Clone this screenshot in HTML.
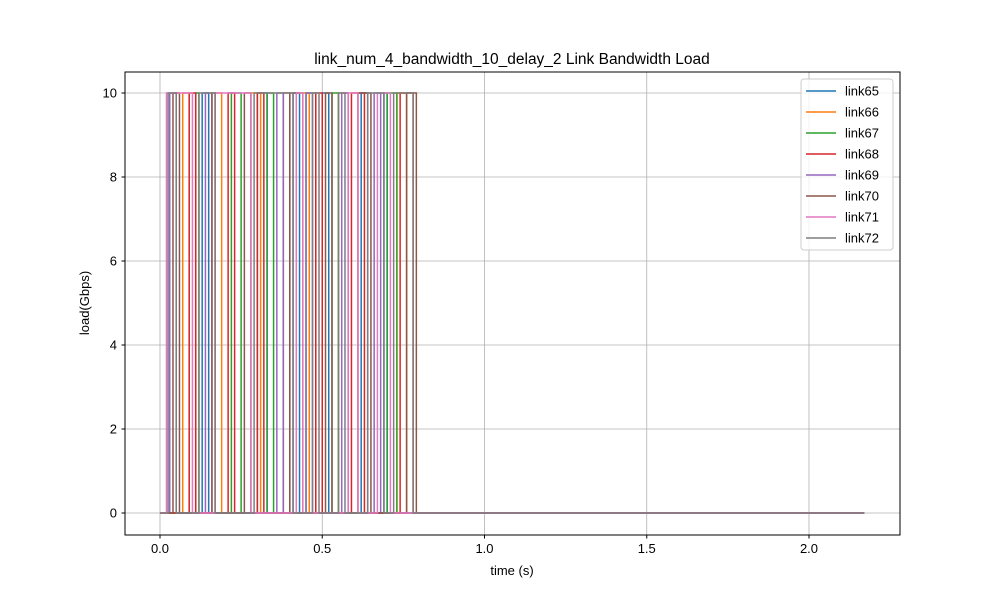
<!DOCTYPE html>
<html><head><meta charset="utf-8"><style>body{margin:0;background:#fff}svg{display:block;font-family:"Liberation Sans","DejaVu Sans",sans-serif}</style></head>
<body>
<svg id="chart" width="1000" height="600">
<rect width="1000" height="600" fill="#fff"/>
<text x="512" y="64" text-anchor="middle" font-size="15.5">link_num_4_bandwidth_10_delay_2 Link Bandwidth Load</text>
<g id="grid"></g>
<g id="series"></g>
<rect x="125" y="72" width="775" height="463" fill="none" stroke="#000" stroke-width="1"/>
<g id="ticks" font-size="13"></g>
<text x="512" y="575" text-anchor="middle" font-size="13">time (s)</text>
<text x="89" y="303" text-anchor="middle" font-size="13" transform="rotate(-90 89 303)">load(Gbps)</text>
<g id="legend"></g>
</svg>
<script>
const NS="http://www.w3.org/2000/svg";
const linkNames=["link65","link66","link67","link68","link69","link70","link71","link72"];
const colors=["#1f77b4","#ff7f0e","#2ca02c","#d62728","#9467bd","#8c564b","#e377c2","#7f7f7f"];
const xTicks=[0,0.5,1.0,1.5,2.0];
const xTickLabels=["0.0","0.5","1.0","1.5","2.0"];
const yTicks=[0,2,4,6,8,10];
const endTime=2.17;
const onLevel=10;
const link65=[[0.13,0.15],[0.30,0.33],[0.41,0.43],[0.50,0.52],[0.62,0.64],[0.69,0.70]];
const link66=[[0.07,0.09],[0.17,0.19],[0.28,0.31],[0.44,0.46],[0.55,0.58],[0.73,0.76]];
const link67=[[0.11,0.12],[0.22,0.25],[0.33,0.35],[0.45,0.48],[0.53,0.55],[0.70,0.73]];
const link68=[[0.09,0.11],[0.21,0.23],[0.30,0.32],[0.38,0.40],[0.48,0.50],[0.59,0.63],[0.74,0.78]];
const link69=[[0.03,0.05],[0.14,0.16],[0.36,0.38],[0.45,0.47],[0.56,0.58],[0.66,0.68]];
const link70=[[0.04,0.06],[0.16,0.17],[0.26,0.28],[0.40,0.44],[0.51,0.53],[0.61,0.65],[0.76,0.79]];
const link71=[[0.02,0.10],[0.17,0.28],[0.42,0.44],[0.58,0.61],[0.67,0.71]];
const link72=[[0.025,0.05],[0.12,0.17],[0.29,0.41],[0.47,0.49],[0.55,0.57],[0.64,0.69],[0.72,0.78]];
const allSeries=[link65,link66,link67,link68,link69,link70,link71,link72];

const X=t=>160+t*324.5;
const Y=v=>513-v*42;
function mk(tag,attrs,parent){const e=document.createElementNS(NS,tag);for(const k in attrs)e.setAttribute(k,attrs[k]);parent.appendChild(e);return e;}
const grid=document.getElementById('grid'),ticks=document.getElementById('ticks');
xTicks.forEach((t,i)=>{
 const g=mk('line',{x1:X(t),x2:X(t),y1:72,y2:535,stroke:'#b0b0b0','stroke-width':0.8},grid);
 
 
 mk('line',{x1:X(t),x2:X(t),y1:535,y2:538.5,stroke:'#000'},ticks);
 const tx=mk('text',{x:X(t),y:553,'text-anchor':'middle'},ticks);tx.textContent=xTickLabels[i];
 
 
});
yTicks.forEach(v=>{
 const g=mk('line',{x1:125,x2:900,y1:Y(v),y2:Y(v),stroke:'#b0b0b0','stroke-width':0.8},grid);
 
 
 mk('line',{x1:121.5,x2:125,y1:Y(v),y2:Y(v),stroke:'#000'},ticks);
 const tx=mk('text',{x:117,y:Y(v)+4.5,'text-anchor':'end'},ticks);tx.textContent=String(v);
 
 
});
const sg=document.getElementById('series');
allSeries.forEach((iv,si)=>{
 let d=`M${X(0)},${Y(0)}`;
 iv.forEach(([a,b])=>{d+=` L${X(a)},${Y(0)} L${X(a)},${Y(onLevel)} L${X(b)},${Y(onLevel)} L${X(b)},${Y(0)}`;});
 d+=` L${X(endTime)},${Y(0)}`;
 const p=mk('path',{d:d,fill:'none',stroke:colors[si],'stroke-width':1.5,'stroke-linejoin':'miter'},sg);
 
 
});
const lg=document.getElementById('legend');
const box=mk('rect',{x:801,y:79,width:92,height:171,rx:3,fill:'#fff','fill-opacity':0.8,stroke:'#ccc'},lg);


linkNames.forEach((n,i)=>{
 const y=91+i*21;
 const g=mk('g',{},lg);
 
 
 mk('line',{x1:806,x2:836,y1:y,y2:y,stroke:colors[i],'stroke-width':1.5},g);
 const t=mk('text',{x:845,y:y+4.5,'font-size':13},g);t.textContent=n;
});
</script>
</body></html>
